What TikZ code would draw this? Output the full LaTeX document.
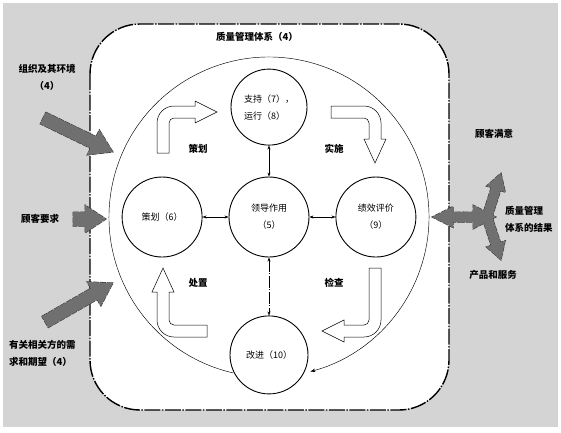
\documentclass[tikz,border=0pt]{standalone}
\usepackage{fontspec}
\setmainfont{Noto Sans CJK SC}
\usetikzlibrary{positioning,calc,arrows.meta}

\tikzset{
  stage/.style={circle, draw, line width=0.9pt, minimum size=80pt, inner sep=0pt,
    align=center, font=\fontsize{9}{17}\selectfont},
  lbl/.style={font=\fontsize{9.5}{17}\selectfont\bfseries, align=center, inner sep=1pt},
  qmsbox/.style={draw, fill=white, line width=1.4pt, rounded corners=50pt,
    dash pattern=on 16pt off 1.5pt on 1.5pt off 1.5pt},
  hollow/.style={draw, fill=white, line width=0.5pt},
  link/.style={{Stealth[length=4pt,width=3pt]}-{Stealth[length=4pt,width=3pt]}, line width=0.5pt},
  loop/.style={-{Stealth[length=5pt,width=3.5pt]}, line width=0.45pt},
  gedge/.style={draw=black!80, line width=1pt, dash pattern=on 6pt off 1pt},
  gfill/.style={fill=black!56}
}

% block arrow: [style]{tail}{tip}{half shaft}{half head}{head length}
\newcommand{\blockarrow}[6][gfill]{%
  \coordinate (ba-base) at ($(#3)!#6!(#2)$);
  \path[#1] ($(#2)!#4!90:(#3)$) -- ($(ba-base)!#4!90:(#3)$) -- ($(ba-base)!#5!90:(#3)$) -- (#3)
    -- ($(ba-base)!#5!-90:(#3)$) -- ($(ba-base)!#4!-90:(#3)$) -- ($(#2)!#4!-90:(#3)$) -- cycle;}

% all gray arrows in one go
\newcommand{\garrows}[1]{%
  \blockarrow[#1]{org-t}{org-h}{6.5pt}{14pt}{22pt}
  \blockarrow[#1]{req-t}{req-h}{7pt}{14pt}{21pt}
  \blockarrow[#1]{party-t}{party-h}{6.5pt}{14pt}{22pt}
  \blockarrow[#1]{out-m}{out-l}{5pt}{10.5pt}{21pt}
  \blockarrow[#1]{out-m}{out-r}{5pt}{12pt}{23pt}
  \blockarrow[#1]{out-b1}{sat-h}{5pt}{10pt}{17pt}
  \blockarrow[#1]{out-b2}{prod-h}{5pt}{10pt}{17pt}}

\begin{document}
\begin{tikzpicture}[x=1pt, y=-1pt]

  % Canvas
  \useasboundingbox (0,0) rectangle (561,432);
  \fill[black!17] (3,3) rectangle (558,427);

  % QMS box
  \draw[qmsbox] (90,24) rectangle (449,410);
  \node[lbl] (qms) at (257,37) {质量管理体系（4）} ; %

  % Stages
  \node[stage]                    (lead)    at (269,217) {领导作用\\（5）} ; %
  \node[stage, left=26pt of lead]  (plan)    {策划（6）} ; %
  \node[stage, right=26pt of lead] (eval)    {绩效评价\\（9）} ; %
  \node[stage, above=31pt of lead, minimum size=76pt, align=left] (support) {支持（7），\\运行（8）} ; %
  \node[stage, below=58pt of lead, minimum size=78pt] (improve) {改进（10）} ; %

  % links to leadership
  \draw[link] (support) -- (lead) ;
  \draw[link] (plan) -- (lead) ;
  \draw[link] (lead) -- (eval) ;
  \draw[link, dash pattern=on 12pt off 1.5pt on 1pt off 1.5pt] (lead) -- (improve) ;

  % PDCA loop
  \draw[loop] ($(lead)+(103:160)$) arc[start angle=103, end angle=435, radius=160] ;

  % PDCA labels
  \node[lbl] (l-plan)  at (198,149) {策划} ; %
  \node[lbl] (l-do)    at (334,149) {实施} ; %
  \node[lbl] (l-act)   at (198,283) {处置} ; %
  \node[lbl] (l-check) at (334,283) {检查} ; %

  % hollow bent arrows
  \draw[hollow] (157,153) -- (157,123) arc(180:270:17) -- (195,106) -- (195,101) -- (217,112)
    -- (195,123) -- (195,118) -- (174,118) arc(270:180:5) -- (169,153) -- cycle ;
  \draw[hollow] (331,106) -- (364,106) arc(270:360:17) -- (381,139) -- (386,139) -- (375,163)
    -- (364,139) -- (369,139) -- (369,123) arc(0:-90:5) -- (331,118) -- cycle ;
  \draw[hollow] (369,268) -- (381,268) -- (381,320) arc(0:90:17) -- (344,337) -- (344,342) -- (322,331)
    -- (344,320) -- (344,325) -- (364,325) arc(90:0:5) -- cycle ;
  \draw[hollow] (207,325) -- (207,337) -- (174,337) arc(90:180:17) -- (157,292) -- (152,292) -- (163,268)
    -- (174,292) -- (169,292) -- (169,320) arc(180:90:5) -- cycle ;

  % Inputs
  \node[lbl] (org)   at (47,77)  {组织及其环境\\（4）} ; %
  \node[lbl] (req)   at (40,219) {顾客要求} ; %
  \node[lbl, align=left, anchor=west] (party) at (8,353) {有关相关方的需\\求和期望（4）} ; %

  % Outputs
  \node[lbl] (sat)   at (494,134) {顾客满意} ; %
  \node[lbl, align=left, anchor=west] (result) at (504,219) {质量管理\\体系的结果} ; %
  \node[lbl] (prod)  at (493,275) {产品和服务} ; %

  % gray arrow ends
  \coordinate (org-t)   at (43,118) ;
  \coordinate (org-h)   at (113,152) ;
  \coordinate (req-t)   at (73,219) ;
  \coordinate (req-h)   at (106,219) ;
  \coordinate (party-t) at (45,322) ;
  \coordinate (party-h) at (113,283) ;
  \coordinate (out-m)   at (463,217) ;
  \coordinate (out-l)   at (432,217) ;
  \coordinate (out-r)   at (496,217) ;
  \coordinate (out-b1)  at (486,220) ;
  \coordinate (out-b2)  at (486,214) ;
  \coordinate (sat-h)   at (501,173) ;
  \coordinate (prod-h)  at (501,260) ;

  \garrows{gedge}
  \garrows{gfill}

\end{tikzpicture}
\end{document}
